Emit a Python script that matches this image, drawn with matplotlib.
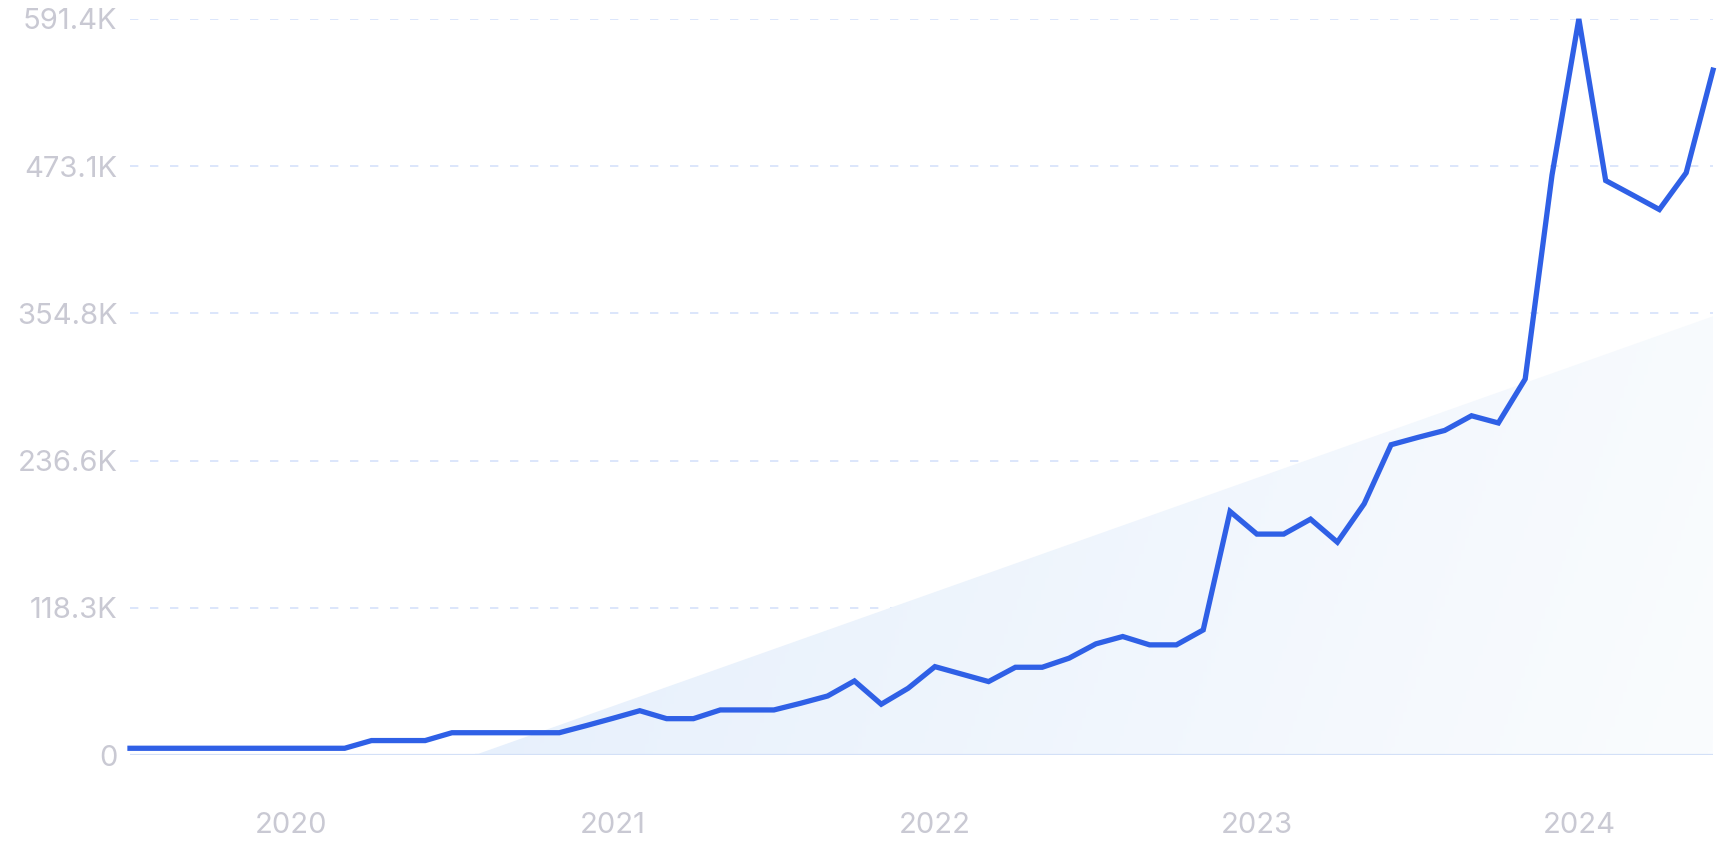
import numpy as np
import matplotlib.pyplot as plt
from matplotlib.patches import Polygon
from matplotlib.colors import LinearSegmentedColormap

# ========================= DATA =========================
# monthly search volume, Jul 2019 .. Jun 2024 (thousands)
volume = [5.4, 5.4, 5.4, 5.4, 5.4, 5.4, 5.4, 5.4, 5.4,
          11.6, 11.6, 11.6,
          17.9, 17.9, 17.9, 17.9, 17.9,
          23.6, 29.5, 35.6, 29.2, 29.2,
          36.2, 36.2, 36.2, 41.6, 47.4, 59.5, 40.8, 53.6,
          71.0, 65.0, 59.0, 70.5, 70.5, 77.8, 89.3, 95.2, 88.5, 88.5,
          100.5, 195.7, 177.5, 177.5, 189.5, 171.0, 201.9, 249.3, 255.2, 260.8,
          272.6, 266.8, 302.1, 466.0, 591.4, 461.6, 450.0, 438.3, 467.8, 550.3]
trend_start = -98.2    # trend value at first month (clipped at 0)
trend_end = 352.5      # trend value at last month

year_ticks = [6, 18, 30, 42, 54]
year_labels = ['2020', '2021', '2022', '2023', '2024']
y_ticks = [0, 118.3, 236.6, 354.8, 473.1, 591.4]
y_labels = ['0', '118.3K', '236.6K', '354.8K', '473.1K', '591.4K']

# ========================= PLOT =========================
plt.rcParams['font.family'] = ['Inter', 'DejaVu Sans']

fig = plt.figure(figsize=(17.2, 8.6), dpi=100)
ax = fig.add_axes([130 / 1720, 1 - 755 / 860, 1583 / 1720, 736 / 860])

x = np.arange(len(volume))
trend = np.linspace(trend_start, trend_end, len(volume))
trend = np.maximum(trend, 0)

ax.set_xlim(0, len(volume) - 1)
ax.set_ylim(0, y_ticks[-1])

# gradient fill under the trend line: diagonal fade across its bounding box
x0 = x[-1] * (-trend_start) / (trend_end - trend_start)
bw = ax.transData.transform((x[-1], 0))[0] - ax.transData.transform((x0, 0))[0]
bh = ax.transData.transform((0, trend_end))[1] - ax.transData.transform((0, 0))[1]
u, v = np.meshgrid(np.linspace(0, 1, 300), np.linspace(0, 1, 300))
grad = (u * bw * bw + v * bh * bh) / (bw * bw + bh * bh)
cmap = LinearSegmentedColormap.from_list('fade', ['#e5effc', '#fafcfe'])
img = ax.imshow(grad, extent=[x0, x[-1], 0, trend_end], origin='upper',
                cmap=cmap, aspect='auto', zorder=1, vmin=0, vmax=1)
poly_pts = np.column_stack([np.r_[x, x[::-1]], np.r_[trend, np.zeros(len(x))]])
poly = Polygon(poly_pts, closed=True, facecolor='none', edgecolor='none')
ax.add_patch(poly)
img.set_clip_path(poly)

# grid
for yt in y_ticks[1:]:
    ax.axhline(yt, color='#d6e2fb', lw=1.2, linestyle=(0, (5, 7)), zorder=0)
ax.axhline(0, color='#d3e0f7', lw=1.6, zorder=2)

ax.plot(x, volume, color='#2f60e6', lw=3.8, solid_joinstyle='miter',
        zorder=3, clip_on=False)

ax.set_xlim(0, len(volume) - 1)
ax.set_ylim(0, y_ticks[-1])
ax.set_xticks(year_ticks)
ax.set_xticklabels(year_labels)
ax.set_yticks(y_ticks)
ax.set_yticklabels(y_labels)
ax.tick_params(axis='both', length=0, labelsize=21, labelcolor='#c9c9d3')
ax.tick_params(axis='x', pad=41)
ax.tick_params(axis='y', pad=9)
for s in ax.spines.values():
    s.set_visible(False)

fig.savefig('out.png', dpi=100)
